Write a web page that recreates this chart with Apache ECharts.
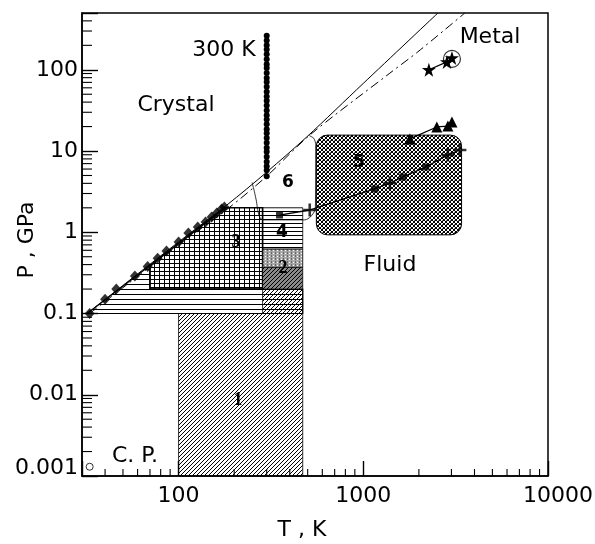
<!DOCTYPE html>
<html><head><meta charset="utf-8">
<script src="https://cdn.jsdelivr.net/npm/echarts/dist/echarts.min.js"></script>
<style>html,body{margin:0;padding:0;background:#fff}#c{width:595px;height:544px}</style>
</head><body><div id="c"></div>
<script>
// ---------- data (T in K, P in GPa) ----------
const xTickLabels = ['100', '1000', '10000'];
const yTickLabels = ['0.001', '0.01', '0.1', '1', '10', '100'];
const xMinorTicks = [40,50,60,70,80,90,200,300,400,500,600,700,800,900,2000,3000,4000,5000,6000,7000,8000,9000];
const yMinorTicks = [0.002,0.003,0.004,0.005,0.006,0.007,0.008,0.009,
  0.02,0.03,0.04,0.05,0.06,0.07,0.08,0.09,0.2,0.3,0.4,0.5,0.6,0.7,0.8,0.9,
  2,3,4,5,6,7,8,9,20,30,40,50,60,70,80,90,200,300,400];

const meltSolid = [[32,0.1],[100,0.76],[182,2.15],[300,5.5],[494,14.9],[1000,68],[2535,500]];
const meltDashDot = [[33,0.1],[100,0.70],[182,1.9],[300,4.9],[513,15.7],[1393,91],[1972,166],[3548,500]];

const chain300K_T = 300;
const chain300K_P = [4.9,5.8,6.5,7.4,8.5,9.8,11,12.6,14.5,16.6,18.6,21.4,24.5,27.5,31.6,36.3,41.7,46.8,53.7,61.7,70.8,79.4,91.2,105,117,135,155,178,200,229,263];

const diamonds = [[33,0.1],[40,0.15],[46,0.2],[58,0.29],[68,0.38],[77,0.48],[86,0.59],[100,0.76],[113,0.98],[127,1.16],[140,1.34],[151,1.54],[161,1.73],[171,1.94],[177,2.05]];
const squares = [[352,1.63],[1153,3.41],[1637,4.79],[2183,6.37]];
const pluses = [[513,1.88],[1393,4.04],[2871,8.93],[3334,10.3]];
const triangles = [[1786,14.1],[2500,19.8],[2871,20.3],[3020,22.7]];
const stars = [[2265,100],[2837,125],[3020,140]];
const circledPoint = [[3020,136]];
const criticalPoint = [[33,0.0013]];

const region1Diag = [[100,0.001],[470,0.001],[470,0.2],[285,0.2],[285,0.1],[100,0.1]];
const stripHoriz = [[32,0.1],[470,0.1],[470,0.2],[70,0.2],[70,0.39]];
const region3Grid = [[70,0.2],[285,0.2],[285,2],[178,2],[70,0.39]];
const region4Horiz = [[285,0.62],[470,0.62],[470,2],[285,2]];
const region2Upper = [[285,0.37],[470,0.37],[470,0.62],[285,0.62]];
const region2Lower = [[285,0.2],[470,0.2],[470,0.37],[285,0.37]];
const region5T = [557, 3405];
const region5P = [0.93, 15.7];
const region6Outline = [[250,4.1],[257,3.2],[264,2.4],[268,1.9],[276,1.5],[290,1.42],[482,1.42],[518,1.55],[550,1.95],[553,11.9],[540,14.3],[510,15.5]];

const labelTexts = ['300 K','Crystal','Metal','Fluid','C. P.','1','2','3','4','5','6'];
const axisNameX = 'T , K';
const axisNameY = 'P , GPa';

// ---------- patterns ----------
function pat(w, h, bg, pix) {
  const c = document.createElement('canvas'); c.width = w; c.height = h;
  const g = c.getContext('2d');
  if (bg) { g.fillStyle = bg; g.fillRect(0, 0, w, h); }
  pix(g, w, h);
  return { image: c, repeat: 'repeat' };
}
const black = g => { g.fillStyle = '#000'; };
const patDiag = pat(4, 4, null, (g) => { black(g); for (let i = 0; i < 4; i++) g.fillRect(i, 3 - i, 1, 1); });
const patHoriz5 = pat(4, 5, null, (g) => { black(g); g.fillRect(0, 4, 4, 1); });
const patHoriz4 = pat(4, 4, null, (g) => { black(g); g.fillRect(0, 3, 4, 1); });
const patGrid = pat(5, 4, null, (g) => { black(g); g.fillRect(0, 3, 5, 1); g.fillRect(4, 0, 1, 4); });
const patCross = pat(4, 4, '#fff', (g) => { g.fillStyle = '#000'; for (let i = 0; i < 4; i++) { g.fillRect(i, i, 1, 1); g.fillRect(i, 3 - i, 1, 1); } g.fillStyle = '#777'; g.fillRect(2, 0, 1, 1); });
const patR2Upper = pat(4, 3, '#a8a8a8', (g) => { g.fillStyle = '#fff'; g.fillRect(1, 1, 1, 1); g.fillStyle = '#666'; g.fillRect(3, 0, 1, 2); });
const patR2Lower = pat(4, 4, '#8a8a8a', (g) => { g.fillStyle = '#000'; for (let i = 0; i < 4; i++) g.fillRect(i, 3 - i, 1, 1); });

// ---------- helpers ----------
function polySeries(pts, fill, lw, z) {
  return { type: 'custom', coordinateSystem: 'cartesian2d', silent: true, z: z, clip: false,
    data: [pts[0]],
    renderItem: (p, api) => ({ type: 'polygon',
      shape: { points: pts.map(q => api.coord(q)) },
      style: { fill: fill, stroke: '#000', lineWidth: lw } }) };
}
const T_MIN = 30, P_MIN = 0.001;
// minor ticks: position along the axis from the log scale, base taken from the grid rectangle
function minorTickSeries(vals, isX, len, w) {
  return { type: 'custom', coordinateSystem: 'cartesian2d', silent: true, z: 8, clip: false,
    data: [[100, 1]],
    renderItem: (params, api) => {
      const cs = params.coordSys;
      const bottom = cs.y + cs.height, left = cs.x;
      const kids = vals.map(v => {
        const c = api.coord(isX ? [v, 1] : [100, v]);
        const pts = isX ? [[c[0] - w / 2, bottom], [c[0] + w / 2, bottom], [c[0] + w / 2, bottom - len], [c[0] - w / 2, bottom - len]]
                        : [[left, c[1] - w / 2], [left + len, c[1] - w / 2], [left + len, c[1] + w / 2], [left, c[1] + w / 2]];
        return { type: 'polygon', shape: { points: pts }, style: { fill: '#000' } };
      });
      return { type: 'group', children: kids };
    } };
}
function isPow10(v) { const l = Math.log10(v); return Math.abs(l - Math.round(l)) < 1e-6; }

const FONT = 'DejaVu Sans';
const plusPath = 'path://M4,0H6V4H10V6H6V10H4V6H0V4H4Z';
const starPath = 'path://M12,0L14.8,8.5H24L16.6,13.8L19.4,22.5L12,17.2L4.6,22.5L7.4,13.8L0,8.5H9.2Z';
const squarePlusLine = squares.concat(pluses).sort((a, b) => a[0] - b[0]);

const textEls = [
    [224, 50, 0, '22px "DejaVu Sans"'], [176, 105, 1, '22px "DejaVu Sans"'], [490, 37, 2, '22px "DejaVu Sans"'],
    [390, 265, 3, '22px "DejaVu Sans"'], [135, 456, 4, '22px "DejaVu Sans"'],
    [238, 400, 5, 'bold 18px "Liberation Serif"'], [283, 268, 6, 'bold 18px "Liberation Serif"'],
    [236, 242, 7, 'bold 18px "Liberation Serif"'], [282, 233, 8, 'bold 17px "DejaVu Sans"'],
    [359, 163, 9, 'bold 17px "DejaVu Sans"'], [288, 183, 10, 'bold 17px "DejaVu Sans"']
  ].map(a => ({ type: 'text', x: a[0], y: a[1], z: 50, silent: true,
    style: { text: labelTexts[a[2]], font: a[3], fill: '#000', align: 'center', verticalAlign: 'middle',
             textAlign: 'center', textVerticalAlign: 'middle' } })).concat([
    { type: 'text', x: 302, y: 530, z: 50, silent: true,
      style: { text: axisNameX, font: '22px "DejaVu Sans"', fill: '#000', align: 'center', verticalAlign: 'middle', textAlign: 'center', textVerticalAlign: 'middle' } },
    { type: 'text', x: 27, y: 240, rotation: Math.PI / 2, z: 50, silent: true,
      style: { text: axisNameY, font: '22px "DejaVu Sans"', fill: '#000', align: 'center', verticalAlign: 'middle', textAlign: 'center', textVerticalAlign: 'middle' } }
  ]);

const chart = echarts.init(document.getElementById('c'), null, { renderer: 'canvas' });
chart.setOption({
  animation: false,
  backgroundColor: '#fff',
  grid: { left: 82, right: 47, top: 13, bottom: 68, containLabel: false, outerBoundsMode: 'none',
          show: true, borderColor: '#000', borderWidth: 1.5, backgroundColor: 'transparent' },
  xAxis: {
    type: 'log', logBase: 10, min: T_MIN, max: 10000, z: 10,
    axisLine: { lineStyle: { color: '#000', width: 1.5 } },
    axisTick: { show: true, inside: true, length: 15, lineStyle: { color: '#000', width: 1.4 } },
    splitLine: { show: false }, minorTick: { show: false },
    axisLabel: { margin: 9, fontFamily: FONT, fontSize: 22, color: '#000',
      showMinLabel: true, showMaxLabel: true, hideOverlap: false,
      formatter: v => { if (!isPow10(v)) return ''; const i = Math.round(Math.log10(v)) - 2; const s = xTickLabels[i] || '';
        return i === 2 ? '{r|' + s + '}' : s; },
      rich: { r: { fontFamily: FONT, fontSize: 22, color: '#000', padding: [0, 0, 0, 20] } } }
  },
  yAxis: {
    type: 'log', logBase: 10, min: P_MIN, max: 500, z: 10,
    axisLine: { lineStyle: { color: '#000', width: 1.5 } },
    axisTick: { show: true, inside: true, length: 16, lineStyle: { color: '#000', width: 1.4 } },
    splitLine: { show: false }, minorTick: { show: false },
    axisLabel: { margin: 4, fontFamily: FONT, fontSize: 22, color: '#000',
      showMinLabel: true, showMaxLabel: true, hideOverlap: false,
      formatter: v => { if (!isPow10(v)) return ''; const i = Math.round(Math.log10(v)) + 3; const s = yTickLabels[i] || '';
        return i === 0 ? '{lo|' + s + '}' : s; },
      rich: { lo: { fontFamily: FONT, fontSize: 22, color: '#000', padding: [0, 0, 16, 0] } } }
  },
  series: [
    polySeries(region1Diag, patDiag, 0.8, 1),
    polySeries(stripHoriz, patHoriz5, 1.2, 1),
    polySeries(region3Grid, patGrid, 1.6, 2),
    polySeries(region4Horiz, patHoriz4, 0.8, 2),
    polySeries(region2Upper, patR2Upper, 0.8, 3),
    polySeries(region2Lower, patR2Lower, 0.8, 3),
    { type: 'custom', coordinateSystem: 'cartesian2d', silent: true, z: 3, clip: false,
      data: [[region5T[0], region5P[1]]],
      renderItem: (p, api) => { const a = api.coord([region5T[0], region5P[1]]), b = api.coord([region5T[1], region5P[0]]);
        return { type: 'rect', shape: { x: a[0], y: a[1], width: b[0] - a[0], height: b[1] - a[1], r: 11 },
          style: { fill: patCross, stroke: '#000', lineWidth: 1 } }; } },
    minorTickSeries(xMinorTicks, true, 7, 1.1),
    minorTickSeries(yMinorTicks, false, 10, 1.1),
    { type: 'line', data: region6Outline, smooth: 0.25, symbol: 'none', z: 5, silent: true,
      lineStyle: { color: '#000', width: 0.8 } },
    { type: 'line', data: meltSolid, smooth: 0.3, symbol: 'none', z: 5, silent: true,
      lineStyle: { color: '#000', width: 1 } },
    { type: 'line', data: meltDashDot, smooth: 0.3, symbol: 'none', z: 5, silent: true,
      lineStyle: { color: '#000', width: 1, type: [9, 4, 2, 4] } },
    { type: 'line', data: chain300K_P.map(p => [chain300K_T, p]), symbol: 'circle', symbolSize: 6, z: 6, silent: true,
      itemStyle: { color: '#000' }, lineStyle: { color: '#000', width: 1.5 } },
    { type: 'scatter', data: diamonds, symbol: 'diamond', symbolSize: [10, 11], z: 6, silent: true, itemStyle: { color: '#000' } },
    { type: 'line', data: squarePlusLine, symbol: 'none', z: 6, silent: true, lineStyle: { color: '#000', width: 1.3 } },
    { type: 'scatter', data: squares, symbol: 'rect', symbolSize: 7, z: 7, silent: true, itemStyle: { color: '#000' } },
    { type: 'scatter', data: pluses, symbol: plusPath, symbolSize: 13, z: 7, silent: true, itemStyle: { color: '#000' } },
    { type: 'line', data: triangles, symbol: 'triangle', symbolSize: 11, z: 7, silent: true,
      itemStyle: { color: '#000' }, lineStyle: { color: '#000', width: 1.2 } },
    { type: 'line', data: stars, symbol: starPath, symbolSize: 14, z: 7, silent: true,
      itemStyle: { color: '#000' }, lineStyle: { color: '#000', width: 1.2 } },
    { type: 'scatter', data: circledPoint, symbol: 'circle', symbolSize: 17, z: 6, silent: true,
      itemStyle: { color: 'rgba(0,0,0,0)', borderColor: '#000', borderWidth: 1.2 } },
    { type: 'scatter', data: criticalPoint, symbol: 'circle', symbolSize: 7, z: 7, silent: true,
      itemStyle: { color: '#fff', borderColor: '#000', borderWidth: 1 } }
  ],
  graphic: textEls
});
</script></body></html>
